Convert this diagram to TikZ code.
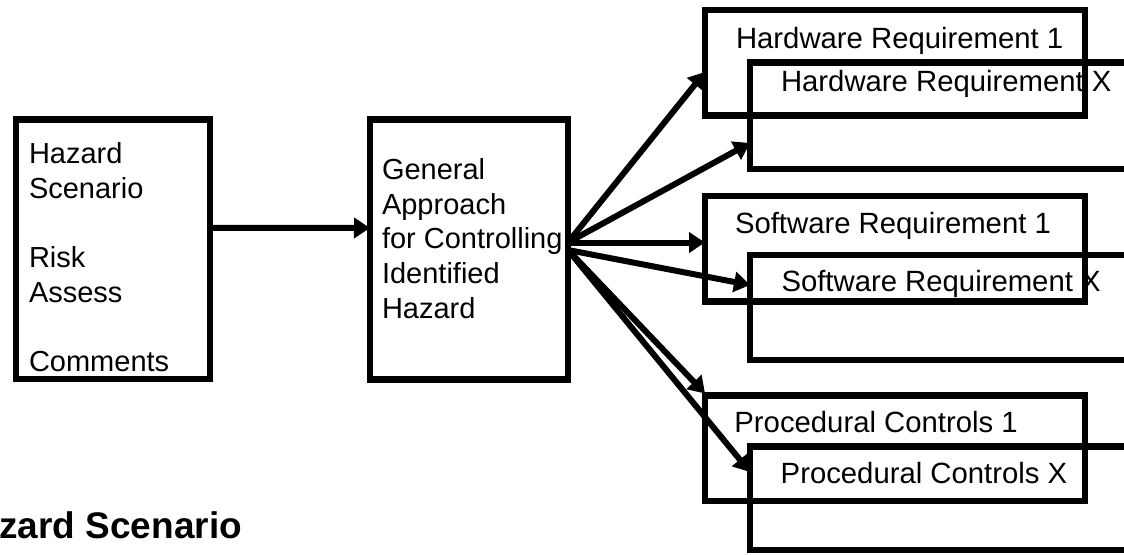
\documentclass[tikz,border=0pt]{standalone}
\usepackage{fontspec}
\setmainfont{Liberation Sans}
\usetikzlibrary{arrows.meta}
\begin{document}
\begin{tikzpicture}[x=1pt,y=-1pt,
  box/.style={draw=black, line width=6.5pt, inner sep=0pt, outer sep=0pt},
  smalltxt/.style={inner sep=0pt, outer sep=0pt, anchor=base west, align=left,
    font=\fontsize{29pt}{34.7pt}\selectfont},
  bigtxt/.style={inner sep=0pt, outer sep=0pt, anchor=base west,
    font=\fontsize{29.3pt}{35pt}\selectfont},
  titletxt/.style={inner sep=0pt, outer sep=0pt, anchor=base west,
    font=\fontsize{37pt}{44pt}\selectfont\bfseries},
  conn/.style={line width=6pt, -{Triangle[length=16pt,width=20pt]}}]
\useasboundingbox (0,0) rectangle (1124,554);
\clip (0,0) rectangle (1124,554);
% boxes
\node[box, minimum width=194pt, minimum height=259.5pt] (left) at (113,249.25) {};
\node[box, minimum width=198pt, minimum height=260pt] (mid) at (469,249.5) {};
\node[box, minimum width=380pt, minimum height=105.5pt] (hw1) at (895,62.75) {};
\node[box, minimum width=390pt, minimum height=106.5pt] (hwx) at (945,115.75) {};
\node[box, minimum width=380pt, minimum height=105.5pt] (sw1) at (895,248.75) {};
\node[box, minimum width=390pt, minimum height=105pt] (swx) at (945,307.5) {};
\node[box, minimum width=380pt, minimum height=105.5pt] (pc1) at (895,448.25) {};
\node[box, minimum width=390pt, minimum height=103.5pt] (pcx) at (945,498.25) {};
% texts (anchor = baseline of last line)
\node[smalltxt] (lefttxt) at (29,371.6) {Hazard\\Scenario\\[34.7pt]Risk\\Assess\\[34.7pt]Comments};
\node[smalltxt] (midtxt) at (382,318.3) {General\\Approach\\for Controlling\\Identified\\Hazard};
\node[bigtxt] (hw1txt) at (736,48.3) {Hardware Requirement 1};
\node[bigtxt] (hwxtxt) at (781,91) {Hardware Requirement X};
\node[bigtxt] (sw1txt) at (735,233) {Software Requirement 1};
\node[bigtxt] (swxtxt) at (781.5,291) {Software Requirement X};
\node[bigtxt] (pc1txt) at (734.4,432.7) {Procedural Controls 1};
\node[bigtxt] (pcxtxt) at (780.7,483) {Procedural Controls X};
\node[titletxt] (title) at (-48,538) {Hazard Scenario};
% connector points
\coordinate (lout) at ([yshift=21.5pt]left.east);
\coordinate (min) at ([yshift=21.5pt]mid.west);
\coordinate (fanA) at ([yshift=7pt]mid.east);
\coordinate (fanB) at ([yshift=-0.5pt]mid.east);
\coordinate (t1) at ([yshift=-62pt]hw1.north west);
\coordinate (t2) at ([yshift=-80.5pt]hwx.north west);
\coordinate (t3) at ([yshift=-46.5pt]sw1.north west);
\coordinate (t4) at ([yshift=-30pt]swx.north west);
\coordinate (t5) at ([yshift=2pt]pc1.north west);
\coordinate (t6) at ([yshift=-25.5pt]pcx.north west);
% connectors
\draw[conn] (lout) -- (min);
\draw[conn] (fanA) -- (t1);
\draw[conn] (fanA) -- (t2);
\draw[conn] (fanA) -- (t3);
\draw[conn] (fanB) -- (t4);
\draw[conn] (fanB) -- (t5);
\draw[conn] (fanB) -- (t6);
\end{tikzpicture}
\end{document}
